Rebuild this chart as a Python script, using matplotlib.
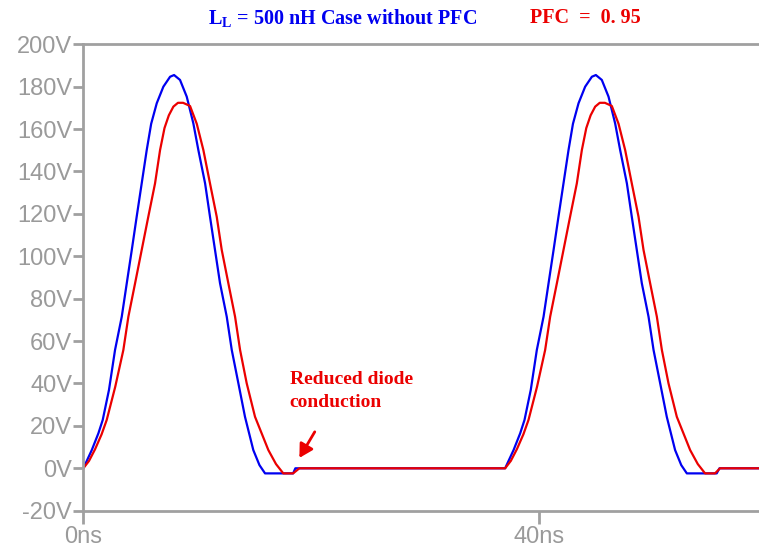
import matplotlib
matplotlib.use("Agg")
import matplotlib.pyplot as plt

plt.rcParams["mathtext.default"] = "regular"

# Simulated node voltage, case without PFC (blue)
t_blue = [0.0, 0.74, 1.32, 1.70, 2.25, 2.78, 3.37, 3.81, 4.25, 4.68, 5.12, 5.56,
          5.95, 6.44, 7.02, 7.61, 7.96, 8.48, 9.07, 9.65, 10.09, 10.68, 11.11,
          11.55, 11.99, 12.58, 13.02, 13.60, 14.18, 14.91, 15.45, 15.94, 18.40, 18.60,
          37.0, 37.74, 38.32, 38.70, 39.25, 39.78, 40.37, 40.81, 41.25, 41.68, 42.12,
          42.56, 42.95, 43.44, 44.02, 44.61, 44.96, 45.48, 46.07, 46.65, 47.09, 47.68,
          48.11, 48.55, 48.99, 49.58, 50.02, 50.60, 51.18, 51.91, 52.45, 52.94, 55.56,
          55.80, 59.3]
v_blue = [0.0, 8.6, 16.5, 22.8, 37.0, 55.8, 71.5, 87.3, 103.0, 118.7, 134.4, 150.1,
          162.5, 172.2, 180.0, 184.7, 185.5, 183.2, 175.3, 162.7, 150.1, 134.4, 118.7,
          103.0, 87.3, 71.5, 55.8, 40.1, 24.3, 8.6, 1.5, -2.4, -2.4, 0.0,
          0.0, 8.6, 16.5, 22.8, 37.0, 55.8, 71.5, 87.3, 103.0, 118.7, 134.4,
          150.1, 162.5, 172.2, 180.0, 184.7, 185.5, 183.2, 175.3, 162.7, 150.1, 134.4,
          118.7, 103.0, 87.3, 71.5, 55.8, 40.1, 24.3, 8.6, 1.5, -2.4, -2.4,
          0.0, 0.0]

# Simulated node voltage with PFC = 0.95 (red)
t_red = [0.0, 0.50, 1.03, 1.60, 2.05, 2.80, 3.51, 3.95, 4.54, 5.12, 5.70, 6.29,
         6.73, 7.12, 7.50, 7.90, 8.30, 8.75, 9.36, 9.95, 10.53, 11.11, 11.70, 12.14,
         12.72, 13.31, 13.75, 14.33, 15.06, 16.23, 16.90, 17.54, 18.40, 18.95,
         37.0, 37.50, 38.03, 38.60, 39.05, 39.80, 40.51, 40.95, 41.54, 42.12, 42.70,
         43.29, 43.73, 44.12, 44.50, 44.90, 45.30, 45.75, 46.36, 46.95, 47.53, 48.11,
         48.70, 49.14, 49.72, 50.31, 50.75, 51.33, 52.06, 53.23, 53.90, 54.54, 55.41,
         55.85, 59.3]
v_red = [0.0, 3.5, 9.0, 16.0, 22.8, 38.5, 55.8, 71.5, 87.3, 103.0, 118.7, 134.4,
         150.1, 160.5, 166.5, 170.6, 172.4, 172.4, 170.9, 162.5, 150.1, 134.4, 118.7,
         103.0, 87.3, 71.5, 55.8, 40.1, 24.3, 8.6, 2.0, -2.4, -2.4, 0.0,
         0.0, 3.5, 9.0, 16.0, 22.8, 38.5, 55.8, 71.5, 87.3, 103.0, 118.7,
         134.4, 150.1, 160.5, 166.5, 170.6, 172.4, 172.4, 170.9, 162.5, 150.1, 134.4,
         118.7, 103.0, 87.3, 71.5, 55.8, 40.1, 24.3, 8.6, 2.0, -2.4, -2.4,
         0.0, 0.0]

y_ticks = [-20, 0, 20, 40, 60, 80, 100, 120, 140, 160, 180, 200]
y_labels = ["-20V", "0V", "20V", "40V", "60V", "80V", "100V", "120V",
            "140V", "160V", "180V", "200V"]
x_ticks = [0, 40]
x_labels = ["0ns", "40ns"]

BLUE = "#0000f0"
RED = "#eb0000"
GRAY = "#a0a0a0"
LABEL_GRAY = "#9a9a9a"

fig = plt.figure(figsize=(7.59, 5.53), dpi=100)
ax = fig.add_axes([0.1098, 0.0765, 0.8902, 0.8434])

ax.plot(t_blue, v_blue, color=BLUE, lw=1.6, solid_joinstyle="round")
ax.plot(t_red, v_red, color=RED, lw=1.6, solid_joinstyle="round")

ax.set_xlim(0, 59.27)
ax.set_ylim(-20, 200)
ax.set_yticks(y_ticks)
ax.set_yticklabels(y_labels)
ax.set_xticks(x_ticks)
ax.set_xticklabels(x_labels)

for side in ("left", "top", "bottom"):
    ax.spines[side].set_color(GRAY)
    ax.spines[side].set_linewidth(2)
ax.spines["right"].set_visible(False)

ax.tick_params(axis="both", colors=GRAY, width=2, length=7,
               labelcolor=LABEL_GRAY, labelsize=17)
ax.tick_params(axis="y", pad=1)
ax.tick_params(axis="x", length=9, pad=2)
for lbl in ax.get_xticklabels() + ax.get_yticklabels():
    lbl.set_fontfamily("Liberation Sans")

# Header texts above the plot
fig.text(208 / 759, 1 - 18 / 553, "L$_\\mathregular{L}$ = 500 nH Case without PFC",
         color=BLUE, fontsize=14.5, fontweight="bold", family="Liberation Serif",
         ha="left", va="center")
fig.text(530 / 759, 1 - 18 / 553, "PFC  =  0. 95",
         color=RED, fontsize=14.5, fontweight="bold", family="Liberation Serif",
         ha="left", va="center")

# Annotation of the shortened conduction interval
ax.annotate("", xy=(18.95, 4.9), xytext=(20.3, 17.2),
            arrowprops=dict(arrowstyle="-|>,head_length=0.8,head_width=0.45",
                            color=RED, lw=2, shrinkA=0, shrinkB=0))
ax.text(18.1, 45.8, "Reduced diode\nconduction", color=RED, fontsize=14,
        fontweight="bold", family="Liberation Serif", ha="left", va="top",
        linespacing=1.45)

fig.savefig("out.png", dpi=100)
